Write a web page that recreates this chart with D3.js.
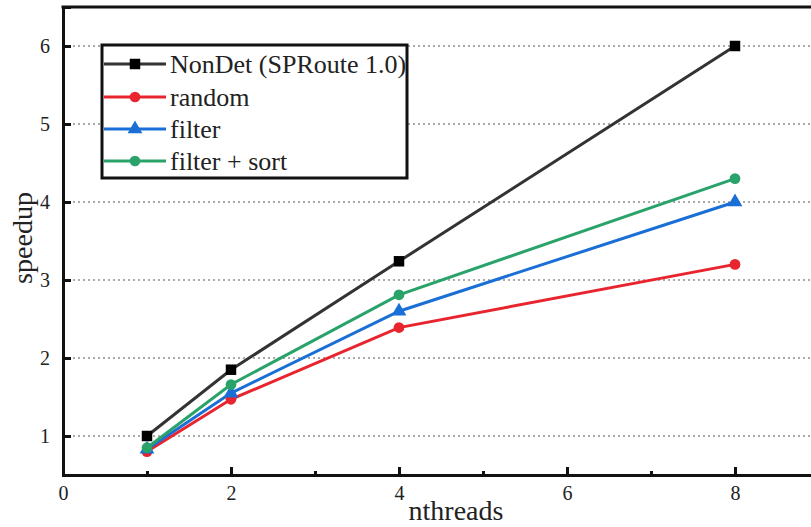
<!DOCTYPE html>
<html>
<head>
<meta charset="utf-8">
<script src="https://cdn.jsdelivr.net/npm/d3@7/dist/d3.min.js"></script>
<style>
  body { margin: 0; background: #fff; }
</style>
</head>
<body>
<svg width="811" height="527"></svg>
<script>
var threads = [1, 2, 4, 8];
var seriesNames = ['NonDet (SPRoute 1.0)', 'random', 'filter', 'filter + sort'];
var nondet = [1.0, 1.85, 3.24, 6.0];
var random = [0.8, 1.47, 2.39, 3.2];
var filter = [0.83, 1.55, 2.6, 4.0];
var filterSort = [0.85, 1.66, 2.81, 4.3];
var xTicks = [0, 2, 4, 6, 8];
var xMinor = [1, 3, 5, 7];
var yTicks = [1, 2, 3, 4, 5, 6];

var serif = '"Liberation Serif", "Times New Roman", serif';
var colors = ['#333333', '#e8252e', '#1a6fd6', '#2aa36b'];
var shapes = [d3.symbolSquare, d3.symbolCircle, d3.symbolTriangle, d3.symbolCircle];
var symSizes = [110, 90, 95, 90];
var values = [nondet, random, filter, filterSort];

var svg = d3.select('svg');
var left = 63, bottom = 475;

var x = d3.scaleLinear().domain([0, 9]).range([left, left + 9 * 84]);
var y = d3.scaleLinear().domain([0.5, 6.5]).range([bottom, bottom - 6 * 78]);

// grid
svg.append('g').selectAll('line').data(yTicks).enter().append('line')
    .attr('x1', left).attr('x2', 811)
    .attr('y1', function (d) { return y(d); }).attr('y2', function (d) { return y(d); })
    .attr('stroke', '#aaa').attr('stroke-width', 2).attr('stroke-dasharray', '2,3');

// axes
var gx = svg.append('g').attr('transform', 'translate(0,' + bottom + ')')
    .call(d3.axisBottom(x).tickValues(xTicks).tickSize(-8).tickPadding(11).tickFormat(d3.format('d')));
svg.append('g').attr('transform', 'translate(0,' + bottom + ')')
    .call(d3.axisBottom(x).tickValues(xMinor).tickSize(-4).tickFormat(''))
    .select('.domain').remove();
var gy = svg.append('g').attr('transform', 'translate(' + left + ',0)')
    .call(d3.axisLeft(y).tickValues(yTicks).tickSize(-8).tickPadding(13).tickFormat(d3.format('d')));

svg.selectAll('.tick line').attr('stroke', '#111').attr('stroke-width', 3);
svg.selectAll('.domain').attr('stroke', '#111').attr('stroke-width', 3);
svg.selectAll('.tick text').attr('font-size', 20).attr('font-family', serif).attr('fill', '#222');
gx.attr('font-family', serif);
gy.attr('font-family', serif);

// top border
svg.append('line').attr('x1', left - 1.5).attr('x2', 811).attr('y1', y(6.5)).attr('y2', y(6.5))
    .attr('stroke', '#111').attr('stroke-width', 3);

// axis titles
svg.append('text').attr('x', 456).attr('y', 520).attr('text-anchor', 'middle')
    .attr('font-family', serif).attr('font-size', 28).attr('fill', '#222').text('nthreads');
svg.append('text').attr('transform', 'translate(32,' + 238 + ') rotate(-90)')
    .attr('text-anchor', 'middle').attr('font-family', serif).attr('font-size', 28)
    .attr('fill', '#222').text('speedup');

// series
var line = d3.line().x(function (d, i) { return x(threads[i]); }).y(function (d) { return y(d); });
values.forEach(function (vals, k) {
    svg.append('path').datum(vals).attr('d', line)
        .attr('fill', 'none').attr('stroke', colors[k]).attr('stroke-width', 3);
});
values.forEach(function (vals, k) {
    svg.append('g').selectAll('path').data(vals).enter().append('path')
        .attr('d', d3.symbol().type(shapes[k]).size(symSizes[k]))
        .attr('transform', function (d, i) { return 'translate(' + x(threads[i]) + ',' + y(d) + ')'; })
        .attr('fill', k === 0 ? '#000' : colors[k]);
});

// legend
var lg = svg.append('g').attr('transform', 'translate(102,45)');
lg.append('rect').attr('width', 305).attr('height', 133)
    .attr('fill', '#fff').attr('stroke', '#111').attr('stroke-width', 3);
var rowY = [19, 52, 84, 116];
seriesNames.forEach(function (name, k) {
    var g = lg.append('g').attr('transform', 'translate(0,' + rowY[k] + ')');
    g.append('line').attr('x1', 2).attr('x2', 64).attr('stroke', colors[k]).attr('stroke-width', 3);
    g.append('path').attr('d', d3.symbol().type(shapes[k]).size(symSizes[k]))
        .attr('transform', 'translate(33,0)').attr('fill', k === 0 ? '#000' : colors[k]);
    g.append('text').attr('x', 68).attr('dy', '0.33em').attr('font-family', serif)
        .attr('font-size', 26).attr('fill', '#222').text(name);
});
</script>
</body>
</html>
